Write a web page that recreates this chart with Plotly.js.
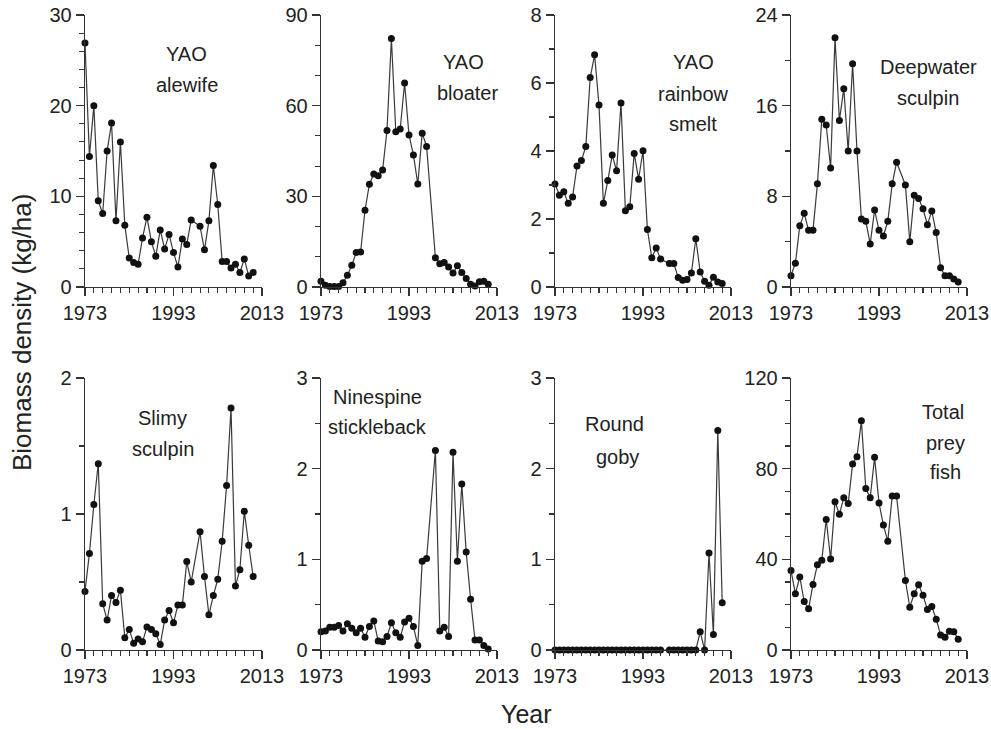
<!DOCTYPE html>
<html>
<head>
<meta charset="utf-8">
<script src="https://cdn.plot.ly/plotly-3.0.1.min.js"></script>
<style>html,body{margin:0;padding:0;background:#fff;}#chart{width:991px;height:729px;}</style>
</head>
<body>
<div id="chart"></div>
<script>
// Survey years (no survey in 1998)
const years = [1973,1974,1975,1976,1977,1978,1979,1980,1981,1982,1983,1984,1985,1986,1987,1988,1989,1990,1991,1992,1993,1994,1995,1996,1997,1999,2000,2001,2002,2003,2004,2005,2006,2007,2008,2009,2010,2011];

const yaoAlewife = [26.9,14.4,20.0,9.5,8.1,15.0,18.1,7.3,16.0,6.8,3.2,2.7,2.5,5.4,7.7,5.0,3.4,6.3,4.2,5.8,3.8,2.2,5.3,4.7,7.4,6.7,4.1,7.3,13.4,9.1,2.8,2.8,2.1,2.5,1.6,3.1,1.2,1.6];
const yaoBloater = [1.9,0.6,0.2,0.2,0.2,1.4,3.9,7.2,11.4,11.6,25.4,34.0,37.4,36.8,38.7,51.8,82.2,51.4,52.3,67.5,50.3,43.7,34.1,50.9,46.5,9.7,7.7,8.1,6.6,4.6,7.0,4.8,2.8,0.9,0.3,1.7,1.9,0.9];
const yaoSmelt = [3.03,2.70,2.80,2.46,2.65,3.56,3.72,4.13,6.16,6.83,5.35,2.46,3.13,3.88,3.42,5.41,2.24,2.36,3.93,3.17,4.01,1.69,0.86,1.15,0.82,0.69,0.69,0.28,0.20,0.22,0.41,1.42,0.44,0.17,0.05,0.29,0.15,0.10];
const deepwaterSculpin = [1.0,2.1,5.4,6.5,5.0,5.0,9.1,14.8,14.3,10.5,22.0,14.7,17.5,12.0,19.7,12.0,6.0,5.8,3.8,6.8,5.0,4.5,5.8,9.1,11.0,9.0,4.0,8.1,7.8,6.9,5.5,6.7,4.8,1.7,1.0,1.0,0.7,0.45];
const slimySculpin = [0.43,0.71,1.07,1.37,0.34,0.22,0.40,0.35,0.44,0.09,0.15,0.05,0.08,0.06,0.17,0.15,0.12,0.04,0.22,0.29,0.20,0.33,0.33,0.65,0.50,0.87,0.54,0.26,0.40,0.52,0.80,1.21,1.78,0.47,0.59,1.02,0.77,0.54];
const ninespine = [0.20,0.21,0.25,0.25,0.27,0.21,0.29,0.24,0.19,0.24,0.14,0.26,0.32,0.10,0.09,0.15,0.30,0.19,0.14,0.31,0.35,0.26,0.05,0.98,1.01,2.20,0.21,0.25,0.15,2.18,0.98,1.83,1.08,0.56,0.11,0.11,0.05,0.01];
const roundGoby = [0,0,0,0,0,0,0,0,0,0,0,0,0,0,0,0,0,0,0,0,0,0,0,0,0,0,0,0,0,0,0,0,0.20,0,1.07,0.17,2.42,0.52];
const totalPrey = [35.1,24.8,32.2,21.4,18.2,28.9,37.6,39.6,57.6,40.1,65.4,59.9,67.2,64.6,82.1,85.3,101.1,71.3,67.2,85.0,64.9,55.1,48.0,67.9,67.9,30.7,18.9,24.8,28.8,24.1,17.9,19.2,13.6,6.6,5.6,8.3,8.1,4.7];

const xTicks = [1973, 1993, 2013];
const panelLabels = [["YAO","alewife"],["YAO","bloater"],["YAO","rainbow","smelt"],["Deepwater","sculpin"],["Slimy","sculpin"],["Ninespine","stickleback"],["Round","goby"],["Total","prey","fish"]];
const series = [yaoAlewife, yaoBloater, yaoSmelt, deepwaterSculpin, slimySculpin, ninespine, roundGoby, totalPrey];
const yMax = [30, 90, 8, 24, 2, 3, 3, 120];
const yMajor = [10, 30, 2, 8, 1, 1, 1, 40];
const yMinor = [2, 10, 1, 4, 0.5, 0.5, 0.5, 10];

const W = 991, H = 729;
const colPx = [[85,262],[321,497],[555,731],[791,967]];
const rowPx = [[15,287],[378,650]];
// label line centres in pixels per panel
const labelPos = [
  [[186,54],[187,85]],
  [[463,62],[467,93]],
  [[693,62],[693,94],[693,124]],
  [[928,67],[928,98]],
  [[162,418],[163,449]],
  [[377,397],[377,427]],
  [[614,424],[617,457]],
  [[943,412],[945,443],[945,472]]
];

const FONT = "Liberation Sans, Arial, sans-serif";
const TXT = "#222";
const LINE = "#333";

const traces = [];
const layout = {
  width: W, height: H,
  margin: {l:0, r:0, t:0, b:0},
  paper_bgcolor: "#fff", plot_bgcolor: "#fff",
  showlegend: false,
  font: {family: FONT, size: 20, color: TXT},
  annotations: []
};

for (let i = 0; i < 8; i++) {
  const r = Math.floor(i / 4), c = i % 4;
  const n = i + 1;
  const xa = n === 1 ? "x" : "x" + n;
  const ya = n === 1 ? "y" : "y" + n;
  traces.push({
    type: "scatter", mode: "lines+markers",
    x: years, y: series[i],
    xaxis: xa, yaxis: ya,
    line: {color: "#3a3a3a", width: 1.2},
    marker: {color: "#111", size: 7},
    cliponaxis: false,
    hoverinfo: "x+y"
  });
  const xKey = n === 1 ? "xaxis" : "xaxis" + n;
  const yKey = n === 1 ? "yaxis" : "yaxis" + n;
  layout[xKey] = {
    domain: [colPx[c][0] / W, colPx[c][1] / W],
    anchor: ya,
    range: [xTicks[0], xTicks[2]],
    tickmode: "array", tickvals: xTicks, ticktext: xTicks.map(String),
    ticks: "outside", ticklen: 8, tickwidth: 1.3, tickcolor: LINE,
    showline: true, linecolor: LINE, linewidth: 1.3,
    showgrid: false, zeroline: false,
    tickfont: {family: FONT, size: 20, color: TXT},
    minor: {tickmode: "linear", tick0: 1973, dtick: 2, ticks: "outside", ticklen: 5, tickwidth: 1.1, tickcolor: LINE, showgrid: false},
    fixedrange: true
  };
  layout[yKey] = {
    domain: [1 - rowPx[r][1] / H, 1 - rowPx[r][0] / H],
    anchor: xa,
    range: [0, yMax[i]],
    tickmode: "linear", tick0: 0, dtick: yMajor[i],
    ticks: "outside", ticklen: 8, tickwidth: 1.3, tickcolor: LINE,
    showline: true, linecolor: LINE, linewidth: 1.3,
    showgrid: false, zeroline: false,
    tickfont: {family: FONT, size: 20, color: TXT},
    minor: {tickmode: "linear", tick0: 0, dtick: yMinor[i], ticks: "outside", ticklen: 5, tickwidth: 1.1, tickcolor: LINE, showgrid: false},
    fixedrange: true
  };
  panelLabels[i].forEach((txt, k) => {
    layout.annotations.push({
      xref: "paper", yref: "paper",
      x: labelPos[i][k][0] / W, y: 1 - labelPos[i][k][1] / H,
      xanchor: "center", yanchor: "middle",
      text: txt, showarrow: false,
      font: {family: FONT, size: 20, color: TXT}
    });
  });
}

layout.annotations.push({
  xref: "paper", yref: "paper", x: 22 / W, y: 1 - 333 / H,
  xanchor: "center", yanchor: "middle", textangle: -90,
  text: "Biomass density (kg/ha)", showarrow: false,
  font: {family: FONT, size: 26, color: TXT}
});
layout.annotations.push({
  xref: "paper", yref: "paper", x: 526 / W, y: 1 - 714 / H,
  xanchor: "center", yanchor: "middle",
  text: "Year", showarrow: false,
  font: {family: FONT, size: 25, color: TXT}
});

Plotly.newPlot("chart", traces, layout, {displayModeBar: false, staticPlot: true});
</script>
</body>
</html>
